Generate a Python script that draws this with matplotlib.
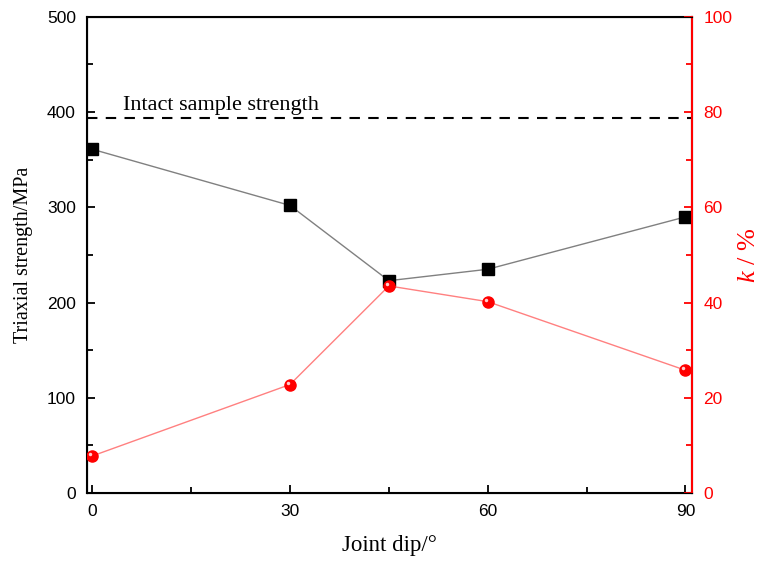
import matplotlib
matplotlib.use("Agg")
from matplotlib import pyplot as plt
from matplotlib.ticker import MultipleLocator

# joint dip angles (degrees)
dip = [0, 30, 45, 60, 90]
# triaxial strength, MPa
strength = [361, 302, 223, 235, 290]
# k, percent
k = [7.8, 22.8, 43.5, 40.2, 25.8]
intact = 394

serif = "Liberation Serif"
sans = "Liberation Sans"

plt.rcParams["mathtext.fontset"] = "custom"
plt.rcParams["mathtext.it"] = "Liberation Serif:italic"
plt.rcParams["mathtext.rm"] = "Liberation Serif"

fig = plt.figure(figsize=(7.63, 5.61), dpi=100)
ax = fig.add_axes([0.114, 0.121, 0.793, 0.849])

ax.plot(dip, strength, color="#808080", lw=1.0, marker="s", ms=8,
        mfc="black", mec="black", zorder=3)
ax.axhline(intact, color="black", ls=(0, (5, 4)), lw=1.5)
ax.text(4.6, 402, "Intact sample strength", family=serif, fontsize=16)

ax.set_xlim(-0.8, 91)
ax.set_ylim(0, 500)
ax.xaxis.set_major_locator(MultipleLocator(30))
ax.xaxis.set_minor_locator(MultipleLocator(15))
ax.yaxis.set_major_locator(MultipleLocator(100))
ax.yaxis.set_minor_locator(MultipleLocator(50))
ax.tick_params(which="both", direction="in", width=1.3, labelsize=12.5, pad=8)
ax.tick_params(which="major", length=6)
ax.tick_params(which="minor", length=4)
for lab in ax.get_xticklabels() + ax.get_yticklabels():
    lab.set_family(sans)
for s in ax.spines.values():
    s.set_linewidth(1.5)
ax.set_xlabel("Joint dip/°", family=serif, fontsize=16.5, labelpad=11)
ax.set_ylabel("Triaxial strength/MPa", family=serif, fontsize=14.5, labelpad=10)

ax2 = ax.twinx()
ax2.plot(dip, k, color="#ff8080", lw=1.0, marker="o", ms=8,
         mfc="red", mec="red", zorder=3)
# small highlight on the red spheres
ax2.plot([d - 0.3 for d in dip], [v + 0.4 for v in k], ls="none", marker="o",
         ms=2.5, mfc="#ffd0d0", mec="none", zorder=4)
ax2.set_ylim(0, 100)
ax2.yaxis.set_major_locator(MultipleLocator(20))
ax2.yaxis.set_minor_locator(MultipleLocator(10))
ax2.tick_params(which="both", direction="in", width=1.3, labelsize=12.5,
                pad=8, colors="red")
ax2.tick_params(which="major", length=6)
ax2.tick_params(which="minor", length=4)
for lab in ax2.get_yticklabels():
    lab.set_family(sans)
ax2.spines["right"].set_color("red")
ax2.spines["right"].set_linewidth(1.5)
ax2.set_ylabel(r"$k$ / %", family=serif, fontsize=19, color="red",
               labelpad=4)

fig.savefig("out.png", dpi=100)
